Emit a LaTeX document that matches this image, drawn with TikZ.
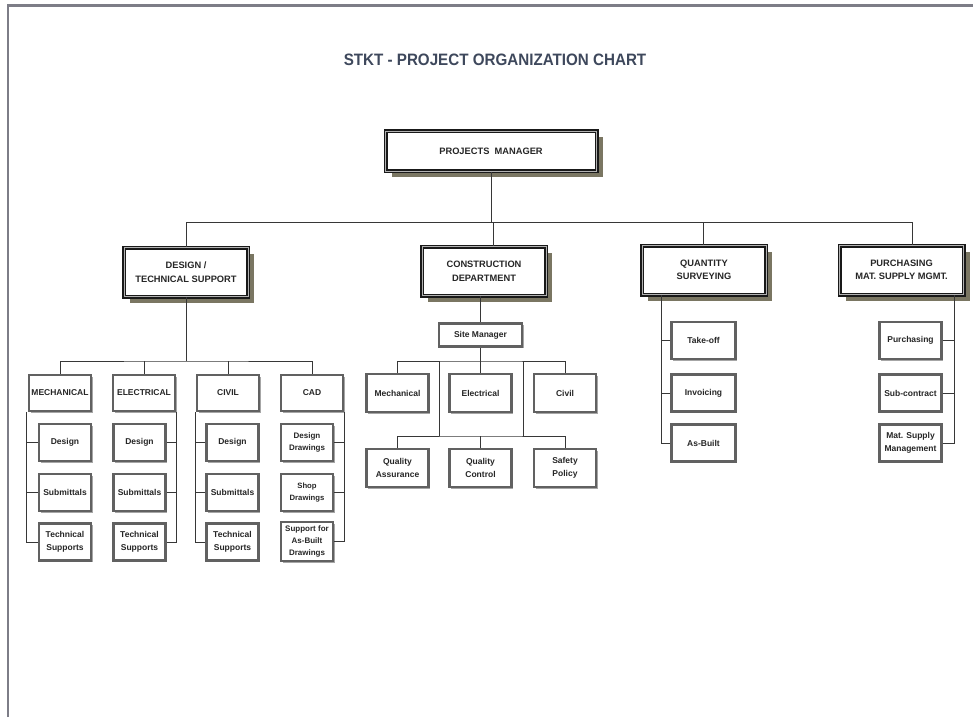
\documentclass[tikz,border=0pt]{standalone}
\usepackage{fontspec}
\setmainfont{Liberation Sans}
\newfontfamily\titlefont[FakeStretch=0.92]{Liberation Sans}
\usetikzlibrary{shadows}

\definecolor{shadowc}{RGB}{122,118,98}
\definecolor{titlec}{RGB}{62,72,92}
\definecolor{framec}{RGB}{125,125,135}
\definecolor{linec}{RGB}{55,55,55}

\tikzset{
  lbl/.style={font=\fontsize{8.5}{12.5}\selectfont\bfseries, text=black!85,
    align=center, inner sep=0pt},
  headbox/.style={lbl, font=\fontsize{9.3}{13.5}\selectfont\bfseries,
    rectangle, minimum width=124pt, minimum height=49pt,
    fill=white, draw=black!90, line width=1.5pt, double=gray!60,
    double distance=1pt,
    drop shadow={shadow xshift=6pt, shadow yshift=-6pt, fill=shadowc, opacity=1}},
  unitbox/.style={lbl, rectangle, minimum width=52pt, minimum height=37pt,
    fill=white, draw=black!62, line width=2.3pt,
    drop shadow={shadow xshift=1.5pt, shadow yshift=-1.5pt, fill=gray!70, opacity=1}},
  rowbox/.style={unitbox, minimum width=62pt, minimum height=36pt},
  conn/.style={draw=linec, line width=1pt},
}

\begin{document}
\begin{tikzpicture}[x=1pt, y=-1pt]
  \fill[white] (0,0) rectangle (973,717);
  \useasboundingbox (0,0) rectangle (973,717);

  % page frame
  \draw[framec, line width=2.5pt] (8,717) -- (8,5.5) -- (973,5.5);

  % title
  \node[text=titlec, inner sep=0pt] (title) at (495,60)
    {\titlefont\bfseries\fontsize{16.5}{18}\selectfont STKT - PROJECT ORGANIZATION CHART};

  % top level
  \node[headbox, minimum width=211pt, minimum height=40pt] (pm) at (491,151) {PROJECTS\ \ MANAGER};
  \node[headbox] (dts) at (186,272) {DESIGN /\\TECHNICAL SUPPORT};
  \node[headbox] (cd)  at (484,271) {CONSTRUCTION\\DEPARTMENT};
  \node[headbox] (qs)  at (704,270) {QUANTITY\\SURVEYING};
  \node[headbox] (pur) at (901.5,270) {PURCHASING\\MAT. SUPPLY MGMT.};

  \coordinate (busL) at (186,222);
  \coordinate (busR) at (912,222);
  \coordinate (jcd)  at (493,222);
  \coordinate (jqs)  at (703,222);
  \draw[conn] (busL) -- (busR);
  \draw[conn] (pm.south) -- (pm.south |- busL);
  \draw[conn] (busL) -- (dts.north);
  \draw[conn] (jcd) -- (jcd |- cd.north);
  \draw[conn] (jqs) -- (jqs |- qs.north);
  \draw[conn] (busR) -- (busR |- pur.north);

  % design / technical support
  \node[rowbox] (mech) at (60,393)  {MECHANICAL};
  \node[rowbox] (elec) at (144,393) {ELECTRICAL};
  \node[rowbox] (civ)  at (228,393) {CIVIL};
  \node[rowbox] (cad)  at (312,393) {CAD};

  \coordinate (dj) at (186,361);
  \draw[conn] (dts.south) -- (dj);
  \draw[conn] (mech.north) |- (dj) -| (cad.north);
  \draw[conn] (elec.north) -- (elec.north |- dj);
  \draw[conn] (civ.north) -- (civ.north |- dj);

  \node[unitbox] (m1) at (65,442.5) {Design};
  \node[unitbox] (m2) at (65,492.5) {Submittals};
  \node[unitbox] (m3) at (65,542)   {Technical\\Supports};
  \node[unitbox] (e1) at (139.5,442.5) {Design};
  \node[unitbox] (e2) at (139.5,492.5) {Submittals};
  \node[unitbox] (e3) at (139.5,542)   {Technical\\Supports};
  \node[unitbox] (c1) at (232.5,442.5) {Design};
  \node[unitbox] (c2) at (232.5,492.5) {Submittals};
  \node[unitbox] (c3) at (232.5,542)   {Technical\\Supports};
  \node[unitbox, font=\fontsize{8}{12}\selectfont\bfseries] (a1) at (307,442.5) {Design\\Drawings};
  \node[unitbox, font=\fontsize{7.7}{12}\selectfont\bfseries] (a2) at (307,492.5) {Shop\\Drawings};
  \node[unitbox, font=\fontsize{8}{12}\selectfont\bfseries, minimum height=39pt] (a3) at (307,541.5) {Support for\\As-Built\\Drawings};

  \coordinate (msp) at ([xshift=-1pt]mech.south west);
  \draw[conn] (msp) |- (m3.west);
  \draw[conn] (m1.west) -- (m1.west -| msp);
  \draw[conn] (m2.west) -- (m2.west -| msp);

  \coordinate (esp) at (elec.south east);
  \draw[conn] (esp) |- (e3.east);
  \draw[conn] (e1.east) -- (e1.east -| esp);
  \draw[conn] (e2.east) -- (e2.east -| esp);

  \coordinate (csp) at (civ.south west);
  \draw[conn] (csp) |- (c3.west);
  \draw[conn] (c1.west) -- (c1.west -| csp);
  \draw[conn] (c2.west) -- (c2.west -| csp);

  \coordinate (asp) at (cad.south east);
  \draw[conn] (asp) |- (a3.east);
  \draw[conn] (a1.east) -- (a1.east -| asp);
  \draw[conn] (a2.east) -- (a2.east -| asp);

  % construction department
  \node[unitbox, minimum width=83pt, minimum height=23pt] (sm) at (480.5,335) {Site Manager};
  \draw[conn] (cd.south -| sm.north) -- (sm.north);

  \node[rowbox, minimum height=38pt] (cm) at (397.5,393) {Mechanical};
  \node[rowbox, minimum height=38pt] (ce) at (480.5,393) {Electrical};
  \node[rowbox, minimum height=38pt] (cc) at (565,393)   {Civil};
  \node[rowbox, minimum height=38pt] (qa) at (397.5,468) {Quality\\Assurance};
  \node[rowbox, minimum height=38pt] (qc) at (480.5,468) {Quality\\Control};
  \node[rowbox, minimum height=38pt] (sp) at (565,468)   {Safety\\Policy};

  \coordinate (b1) at (480.5,361);
  \coordinate (b2) at (480.5,436);
  \coordinate (l1) at (439,361);
  \coordinate (l2) at (523,361);
  \draw[conn] (sm.south) -- (b1);
  \draw[conn] (cm.north) |- (b1) -| (cc.north);
  \draw[conn] (b1) -- (ce.north);
  \draw[conn] (l1) -- (l1 |- b2);
  \draw[conn] (l2) -- (l2 |- b2);
  \draw[conn] (qa.north) |- (b2) -| (sp.north);
  \draw[conn] (b2) -- (qc.north);

  % quantity surveying
  \node[unitbox, minimum width=64pt] (t1) at (703.5,340.5) {Take-off};
  \node[unitbox, minimum width=64pt] (t2) at (703.5,393)   {Invoicing};
  \node[unitbox, minimum width=64pt] (t3) at (703.5,443)   {As-Built};
  \coordinate (qsp) at ([xshift=20pt]qs.south west);
  \draw[conn] (qsp) |- (t3.west);
  \draw[conn] (t1.west) -- (t1.west -| qsp);
  \draw[conn] (t2.west) -- (t2.west -| qsp);

  % purchasing / material supply
  \node[unitbox, minimum width=62pt] (p1) at (910.5,340.5) {Purchasing};
  \node[unitbox, minimum width=62pt] (p2) at (910.5,393)   {Sub-contract};
  \node[unitbox, minimum width=62pt] (p3) at (910.5,443)   {Mat. Supply\\Management};
  \coordinate (psp) at ([xshift=-10pt]pur.south east);
  \draw[conn] (psp) |- (p3.east);
  \draw[conn] (p1.east) -- (p1.east -| psp);
  \draw[conn] (p2.east) -- (p2.east -| psp);
\end{tikzpicture}
\end{document}
